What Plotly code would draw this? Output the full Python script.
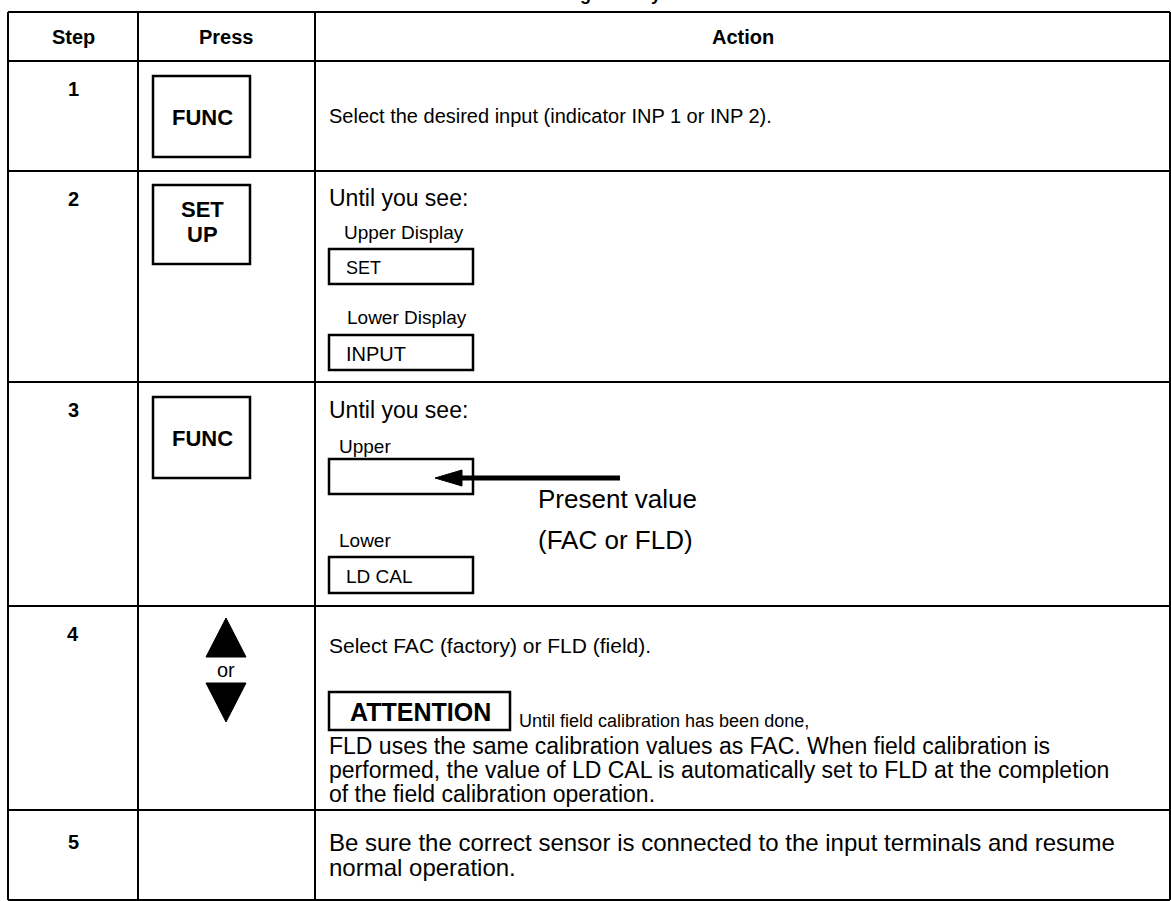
import plotly.graph_objects as go

W, H = 1171, 901

# ---------------- data (texts) ----------------
title_text = "Restoring Factory Calibration"
header_labels = ["Step", "Press", "Action"]
step_numbers = ["1", "2", "3", "4", "5"]
press_keys = [["FUNC"], ["SET", "UP"], ["FUNC"]]
action_first_lines = [
    "Select the desired input (indicator INP 1 or INP 2).",
    "Until you see:",
    "Until you see:",
    "Select FAC (factory) or FLD (field).",
    "Be sure the correct sensor is connected to the input terminals and resume",
]
step5_second_line = "normal operation."
display_labels = ["Upper Display", "Lower Display", "Upper", "Lower"]
display_values = ["SET", "INPUT", "", "LD CAL"]
pointer_lines = ["Present value", "(FAC or FLD)"]
or_label = "or"
attention_label = "ATTENTION"
attention_first = "Until field calibration has been done,"
attention_body = [
    "FLD uses the same calibration values as FAC. When field calibration is",
    "performed, the value of LD CAL is automatically set to FLD at the completion",
    "of the field calibration operation.",
]

# ---------------- geometry (pixels, origin top-left) ----------------
col_x = [8, 138, 315, 1170]
row_y = [12, 61, 171, 382, 606, 810, 900]
FONT = "Arial, 'Liberation Sans', Helvetica, sans-serif"

shapes = []
annots = []


def line(x0, y0, x1, y1, w=2):
    shapes.append(dict(type="line", x0=x0, y0=y0, x1=x1, y1=y1, xref="x", yref="y",
                       line=dict(color="black", width=w)))


def rect(x0, y0, x1, y1, w=2.5):
    shapes.append(dict(type="rect", x0=x0, y0=y0, x1=x1, y1=y1, xref="x", yref="y",
                       line=dict(color="black", width=w), fillcolor="rgba(0,0,0,0)"))


def text(t, x, y, size=20, bold=False, anchor="left"):
    if bold:
        t = "<b>" + t + "</b>"
    annots.append(dict(text=t, x=x, y=y, xref="x", yref="y", showarrow=False,
                       xanchor=anchor, yanchor="middle", align=anchor,
                       font=dict(family=FONT, size=size, color="black")))


# table grid
for yy in row_y:
    line(col_x[0], yy, col_x[-1], yy)
for xx in col_x:
    line(xx, row_y[0], xx, row_y[-1])

# title: only the lower edge of its descenders shows at the top of the page
annots.append(dict(text="<b>" + title_text + "</b>", x=633 / W, y=1 + 5.5 / H,
                   xref="paper", yref="paper", showarrow=False,
                   xanchor="center", yanchor="middle",
                   font=dict(family=FONT, size=18, color="black")))

# headers
hdr_cx = [(col_x[i] + col_x[i + 1]) / 2 for i in range(3)]
for lab, cx in zip(header_labels, hdr_cx):
    text(lab, cx, 37, size=20, bold=True, anchor="center")

# step numbers
step_y = [89, 199, 410, 634, 842]
for s, yy in zip(step_numbers, step_y):
    text(s, 73, yy, size=20, bold=True, anchor="center")

# key boxes
key_boxes = [(153, 76, 250, 157), (153, 185, 250, 264), (153, 397, 250, 478)]
for k, (x0, y0, x1, y1) in zip(press_keys, key_boxes):
    rect(x0, y0, x1, y1, w=2.5)
    cy = (y0 + y1) / 2 + 1
    n = len(k)
    for j, part in enumerate(k):
        text(part, (x0 + x1) / 2 + 1, cy + (j - (n - 1) / 2) * 25 - (4 if n > 1 else 0),
             size=22, bold=True, anchor="center")

# action first lines
act_y = [116, 198, 410, 645, 842]
act_size = [20, 23, 23, 21, 24]
for t, yy, sz in zip(action_first_lines, act_y, act_size):
    text(t, 327, yy, size=sz)
text(step5_second_line, 327, 867, size=24)

# display mock-ups
lab_pos = [(342, 232), (345, 317), (337, 446), (337, 540)]
box_pos = [(329, 249, 473, 284), (329, 335, 473, 370), (329, 459, 473, 494), (329, 557, 473, 593)]
for lab, (lx, ly) in zip(display_labels, lab_pos):
    text(lab, lx, ly, size=19)
val_size = [18, 20, 20, 19]
for val, sz, (x0, y0, x1, y1) in zip(display_values, val_size, box_pos):
    rect(x0, y0, x1, y1, w=2.5)
    if val:
        text(val, x0 + 15, (y0 + y1) / 2 + 1, size=sz)

# pointer arrow into the Upper display box
line(620, 478, 458, 478, w=5)
shapes.append(dict(type="path", path="M 435 478 L 462 470 L 462 486 Z", xref="x", yref="y",
                   fillcolor="black", line=dict(color="black", width=1)))
text(pointer_lines[0], 536, 499, size=26)
text(pointer_lines[1], 536, 540, size=26)

# up / down keys
shapes.append(dict(type="path", path="M 226 618 L 246 657 L 206 657 Z", xref="x", yref="y",
                   fillcolor="black", line=dict(color="black", width=1)))
text(or_label, 226, 670, size=20, anchor="center")
shapes.append(dict(type="path", path="M 206 683 L 246 683 L 226 722 Z", xref="x", yref="y",
                   fillcolor="black", line=dict(color="black", width=1)))

# attention note
rect(329, 692, 510, 730, w=2.5)
text(attention_label, 420, 712, size=25, bold=True, anchor="center")
text(attention_first, 517, 721, size=18)
for i, t in enumerate(attention_body):
    text(t, 327, 746 + 24 * i, size=23)

fig = go.Figure()
fig.update_layout(
    width=W, height=H,
    margin=dict(l=0, r=0, t=0, b=0),
    paper_bgcolor="white", plot_bgcolor="white",
    xaxis=dict(range=[0, W], visible=False, fixedrange=True),
    yaxis=dict(range=[H, 0], visible=False, fixedrange=True),
    shapes=shapes, annotations=annots, showlegend=False,
)
fig.write_html("out.html", config={"displayModeBar": False},
               post_script="document.body.style.margin='0px';document.body.style.overflow='hidden';")
